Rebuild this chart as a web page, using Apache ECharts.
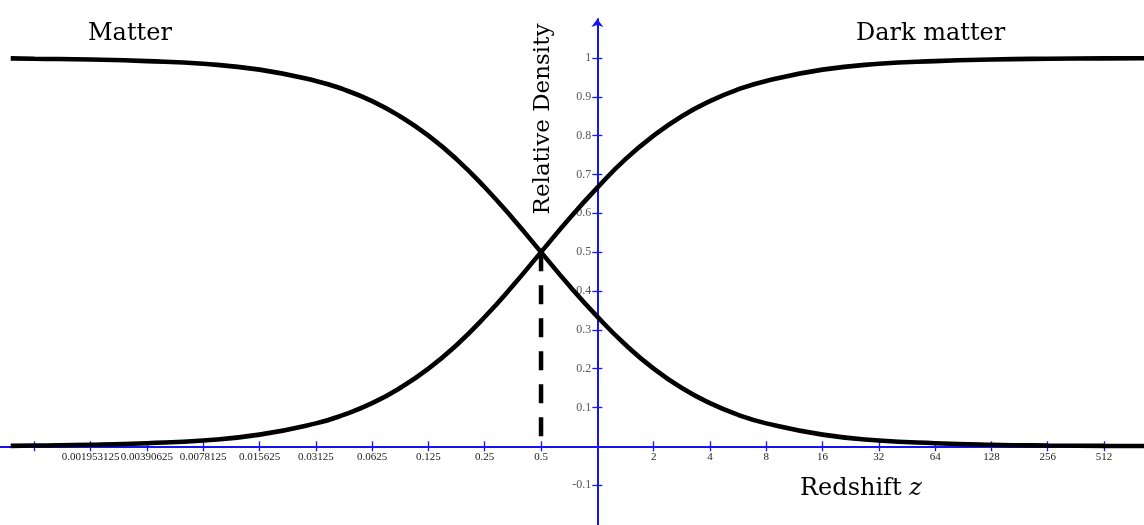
<!DOCTYPE html>
<html>
<head>
<meta charset="utf-8">
<script src="https://cdn.jsdelivr.net/npm/echarts@6/dist/echarts.min.js"></script>
<style>
  html, body { margin: 0; padding: 0; background: #fff; }
  #graph { width: 1144px; height: 525px; }
</style>
</head>
<body>
<div id="graph"></div>
<script>
var redshift = [0.00073, 0.0009765625, 0.001953125, 0.00390625, 0.0078125, 0.015625, 0.03125, 0.044, 0.0625, 0.088,
                0.125, 0.177, 0.25, 0.354, 0.5, 0.707, 1, 1.41, 2, 2.83, 4, 5.66, 8, 16, 32, 64, 128, 256, 512, 840];

// relative density of matter (falling curve)
var matter = [0.999, 0.998, 0.996, 0.992, 0.985, 0.970, 0.941, 0.919, 0.889, 0.850,
              0.800, 0.739, 0.667, 0.586, 0.500, 0.414, 0.334, 0.262, 0.200, 0.150,
              0.111, 0.081, 0.059, 0.030, 0.015, 0.008, 0.004, 0.002, 0.001, 0.0006];

// relative density of dark matter (rising curve)
var darkMatter = [0.001, 0.002, 0.004, 0.008, 0.015, 0.030, 0.059, 0.081, 0.111, 0.150,
                  0.200, 0.261, 0.333, 0.414, 0.500, 0.586, 0.666, 0.739, 0.800, 0.850,
                  0.889, 0.919, 0.941, 0.970, 0.985, 0.992, 0.996, 0.998, 0.999, 0.9994];

// the dashed marker at the crossing point
var crossZ = [0.5, 0.5];
var crossY = [0.5, 0.016];

// x ticks are powers of two (exponent), labels as printed on the picture
var xTickExp = [-10, -9, -8, -7, -6, -5, -4, -3, -2, -1, 1, 2, 3, 4, 5, 6, 7, 8, 9];
var xTickLabels = ['', '0.001953125', '0.00390625', '0.0078125', '0.015625', '0.03125', '0.0625', '0.125', '0.25', '0.5',
                   '2', '4', '8', '16', '32', '64', '128', '256', '512'];

var yTicks = [-0.1, 0.1, 0.2, 0.3, 0.4, 0.5, 0.6, 0.7, 0.8, 0.9, 1];
var yTickLabels = ['-0.1', '0.1', '0.2', '0.3', '0.4', '0.5', '0.6', '0.7', '0.8', '0.9', '1'];

// axis ranges (log2 of z for x)
var xMin = -10.61, xMax = 9.71;
var yMin = -0.2027, yMax = 1.1004;

// build [x, y] pairs, x on a log2 scale
function toPoints(zs, ys) {
    var pts = [];
    for (var i = 0; i < zs.length; i++) {
        pts.push([Math.log2(zs[i]), ys[i]]);
    }
    return pts;
}

function xLabel(v) {
    var i = xTickExp.indexOf(Math.round(v));
    return i < 0 ? '' : xTickLabels[i];
}
function yLabel(v) {
    for (var i = 0; i < yTicks.length; i++) {
        if (Math.abs(yTicks[i] - v) < 1e-6) return yTickLabels[i];
    }
    return '';
}

var blue = '#1414f5';
var serif = 'DejaVu Serif';
var tickFont = 'Liberation Serif';
var tickStyle = { color: blue, width: 1.3 };

// pixel spots of the crossing axes (z = 1 and density = 0)
var W = 1144, H = 525, gridTop = 19;
var yZeroPx = gridTop + (H - gridTop) * yMax / (yMax - yMin);
var xOnePx = W * (0 - xMin) / (xMax - xMin);

var chart = echarts.init(document.getElementById('graph'));

var option = {
    backgroundColor: '#fff',
    animation: false,
    grid: [
        // plotting area for the curves
        { left: 0, right: 0, top: gridTop, bottom: 0, outerBoundsMode: 'none', containLabel: false },
        // horizontal axis sits on the bottom edge of this one
        { left: 0, right: 0, top: gridTop, bottom: H - yZeroPx, outerBoundsMode: 'none', containLabel: false },
        // vertical axis sits on the left edge of this one
        { left: xOnePx, right: 0, top: gridTop, bottom: 0, outerBoundsMode: 'none', containLabel: false }
    ],
    xAxis: [
        { gridIndex: 0, type: 'value', min: xMin, max: xMax, show: false },
        {
            gridIndex: 1, type: 'value', position: 'bottom', min: xMin, max: xMax,
            splitLine: { show: false },
            axisLine: { onZero: false, lineStyle: { color: blue, width: 2 } },
            axisTick: { customValues: xTickExp, length: 5, lineStyle: tickStyle },
            axisLabel: {
                customValues: xTickExp.slice(1),
                formatter: xLabel,
                margin: 5,
                fontFamily: tickFont,
                fontSize: 11,
                color: '#222'
            }
        },
        {
            // upper half of the ticks
            gridIndex: 1, type: 'value', position: 'bottom', min: xMin, max: xMax,
            splitLine: { show: false },
            axisLine: { show: false, onZero: false },
            axisTick: { inside: true, customValues: xTickExp, length: 5, lineStyle: tickStyle },
            axisLabel: { show: false }
        },
        { gridIndex: 2, type: 'value', min: 0, max: 1, show: false }
    ],
    yAxis: [
        { gridIndex: 0, type: 'value', min: yMin, max: yMax, show: false },
        { gridIndex: 1, type: 'value', min: 0, max: 1, show: false },
        {
            gridIndex: 2, type: 'value', position: 'left', min: yMin, max: yMax,
            splitLine: { show: false },
            axisLine: {
                onZero: false,
                symbol: ['none', 'arrow'],
                symbolSize: [9, 8],
                lineStyle: { color: blue, width: 2 }
            },
            axisTick: { customValues: yTicks, length: 5, lineStyle: tickStyle },
            axisLabel: {
                customValues: yTicks,
                formatter: yLabel,
                margin: 6,
                fontFamily: tickFont,
                fontSize: 12,
                color: '#555'
            }
        },
        {
            // right half of the ticks
            gridIndex: 2, type: 'value', position: 'left', min: yMin, max: yMax,
            splitLine: { show: false },
            axisLine: { show: false, onZero: false },
            axisTick: { inside: true, customValues: yTicks, length: 5, lineStyle: tickStyle },
            axisLabel: { show: false }
        }
    ],
    graphic: [{
        type: 'text',
        left: 88, top: 22,
        style: { text: 'Matter', font: '24px "DejaVu Serif"', fill: '#000' }
    }, {
        type: 'text',
        left: 856, top: 22,
        style: { text: 'Dark matter', font: '24px "DejaVu Serif"', fill: '#000' }
    }, {
        type: 'text',
        x: 543, y: 119,
        rotation: Math.PI / 2,
        style: {
            text: 'Relative Density', font: '23px "DejaVu Serif"', fill: '#000',
            align: 'center', verticalAlign: 'middle'
        }
    }, {
        type: 'text',
        left: 800, top: 477,
        style: {
            text: '{n|Redshift }{z|z}',
            rich: {
                n: { fontFamily: serif, fontSize: 24, fill: '#000', color: '#000' },
                z: { fontFamily: serif, fontSize: 24, fontStyle: 'italic', fill: '#000', color: '#000' }
            }
        }
    }],
    series: [{
        name: 'Matter',
        type: 'line',
        xAxisIndex: 0, yAxisIndex: 0,
        data: toPoints(redshift, matter),
        smooth: true,
        symbol: 'none',
        lineStyle: { color: '#000', width: 4.6 },
        z: 5
    }, {
        name: 'Dark matter',
        type: 'line',
        xAxisIndex: 0, yAxisIndex: 0,
        data: toPoints(redshift, darkMatter),
        smooth: true,
        symbol: 'none',
        lineStyle: { color: '#000', width: 4.6 },
        z: 5
    }, {
        name: 'crossing',
        type: 'line',
        xAxisIndex: 0, yAxisIndex: 0,
        data: toPoints(crossZ, crossY),
        symbol: 'none',
        lineStyle: { color: '#000', width: 4.5, type: [19, 14] },
        z: 4
    }]
};

chart.setOption(option);
</script>
</body>
</html>
